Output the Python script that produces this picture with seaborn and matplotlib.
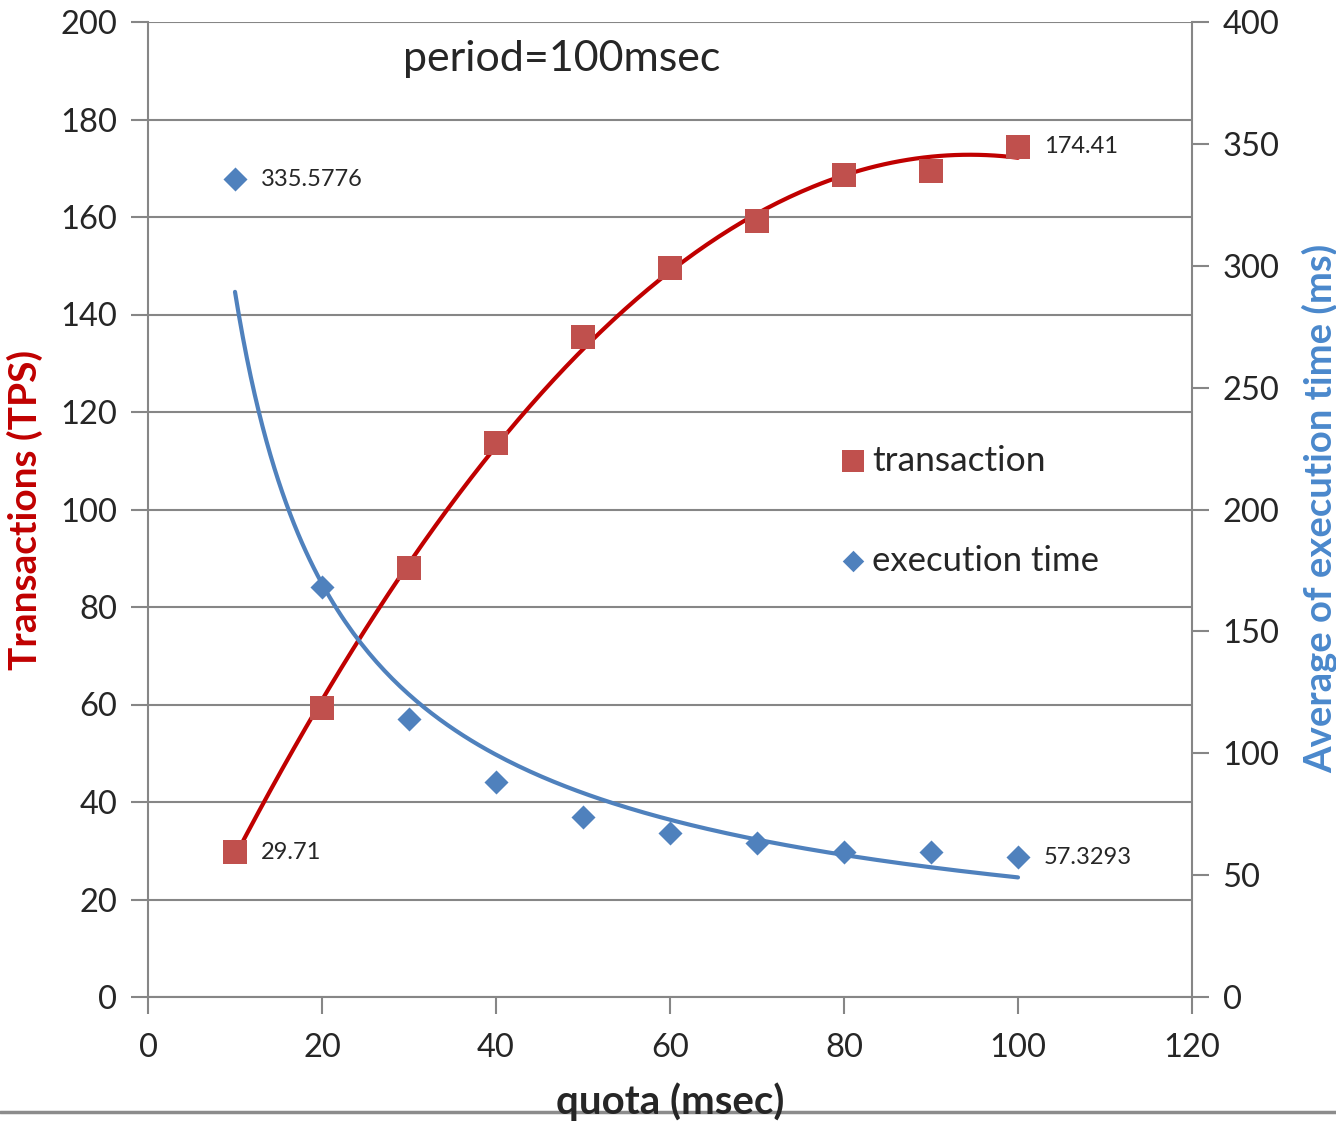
import numpy as np
import pandas as pd
import matplotlib
matplotlib.use("Agg")
import matplotlib.pyplot as plt
import seaborn as sns
from matplotlib.lines import Line2D

quota = [10, 20, 30, 40, 50, 60, 70, 80, 90, 100]
transactions = [29.71, 59.3, 88.0, 113.6, 135.4, 149.5, 159.2, 168.6, 169.4, 174.41]
exec_time = [335.5776, 168.2, 114.1, 88.2, 73.8, 67.3, 63.2, 59.5, 59.5, 57.3293]

x_ticks = [0, 20, 40, 60, 80, 100, 120]
left_ticks = list(range(0, 201, 20))
right_ticks = list(range(0, 401, 50))

RED = "#C0504D"
RED_LINE = "#C00000"
BLUE = "#4F81BD"
BLUE_LABEL = "#4A88CC"
GRAY = "#868686"

sns.set_theme(style="white")
plt.rcParams["font.family"] = ["Lato", "DejaVu Sans"]

df = pd.DataFrame({"quota": quota, "transactions": transactions, "exec_time": exec_time})

fig = plt.figure(figsize=(13.36, 11.24), dpi=100)
ax = fig.add_axes([148/1336, 1 - 997/1124, (1192-148)/1336, (997-22)/1124])
ax2 = ax.twinx()

# gridlines
for t in left_ticks:
    ax.axhline(t, color=GRAY, lw=1.5, zorder=0)

# trendlines
xs = np.linspace(10, 100, 200)
p = np.polyfit(quota, transactions, 2)
ax.plot(xs, np.polyval(p, xs), color=RED_LINE, lw=3, zorder=2)
b, loga = np.polyfit(np.log(quota), np.log(exec_time), 1)
ax2.plot(xs, np.exp(loga) * xs ** b, color=BLUE, lw=3, zorder=2)

sns.scatterplot(data=df, x="quota", y="transactions", ax=ax, marker="s", s=280,
                color=RED, edgecolor=RED, linewidth=0, zorder=3, legend=False)
sns.scatterplot(data=df, x="quota", y="exec_time", ax=ax2, marker="D", s=150,
                color=BLUE, edgecolor=BLUE, linewidth=0, zorder=3, legend=False)

ax.set_xlim(0, 120)
ax.set_ylim(0, 200)
ax2.set_ylim(0, 400)
ax.set_xticks(x_ticks)
ax.set_yticks(left_ticks)
ax2.set_yticks(right_ticks)

for a in (ax, ax2):
    for s in a.spines.values():
        s.set_visible(False)
ax.spines["left"].set_visible(True)
ax.spines["left"].set_color(GRAY)
ax.spines["left"].set_linewidth(1.5)
ax.spines["bottom"].set_visible(True)
ax.spines["bottom"].set_color(GRAY)
ax.spines["bottom"].set_linewidth(1.5)
ax2.spines["right"].set_visible(True)
ax2.spines["right"].set_color(GRAY)
ax2.spines["right"].set_linewidth(1.5)

ax.tick_params(axis="y", which="both", left=True, direction="out", length=12, width=1.5,
               color=GRAY, labelsize=23.5, pad=10)
ax.tick_params(axis="x", which="both", bottom=True, direction="out", length=12, width=1.5,
               color=GRAY, labelsize=23.5, pad=14)
ax2.tick_params(axis="y", which="both", right=True, direction="out", length=12, width=1.5,
                color=GRAY, labelsize=23.5, pad=10)

ax.set_xlabel("quota (msec)", fontsize=29, fontweight="bold", va="center")
ax.xaxis.set_label_coords(0.5, (997 - 1102) / 975)
ax.set_ylabel("Transactions (TPS)", fontsize=28, fontweight="bold", color=RED_LINE, va="center")
ax.yaxis.set_label_coords((25 - 148) / 1044, 0.5)
ax2.set_ylabel("Average of execution time (ms)", fontsize=27.5, fontweight="bold",
               color=BLUE_LABEL, va="center")
ax2.yaxis.set_label_coords((1320 - 148) / 1044, 0.501)

ax.text(0.396, 0.962, "period=100msec", transform=ax.transAxes, fontsize=31,
        ha="center", va="center")

ax.text(13, transactions[0], "29.71", fontsize=17, va="center", ha="left")
ax.text(103, transactions[-1], "174.41", fontsize=17, va="center", ha="left")
ax2.text(13, exec_time[0], "335.5776", fontsize=17, va="center", ha="left")
ax2.text(103, exec_time[-1], "57.3293", fontsize=17, va="center", ha="left")

# legend
ax.scatter([81.05], [110], marker="s", s=230, color=RED, linewidth=0, zorder=3)
ax.text(83.2, 110, "transaction", fontsize=25.5, va="center", ha="left")
ax.scatter([81.05], [89.5], marker="D", s=120, color=BLUE, linewidth=0, zorder=3)
ax.text(83.2, 89.5, "execution time", fontsize=25, va="center", ha="left")

fig.add_artist(Line2D([0, 1], [1 - 1112/1124, 1 - 1112/1124], color="#8C8C8C", lw=2.5,
                      transform=fig.transFigure, zorder=-5))

fig.savefig("out.png", dpi=100)
